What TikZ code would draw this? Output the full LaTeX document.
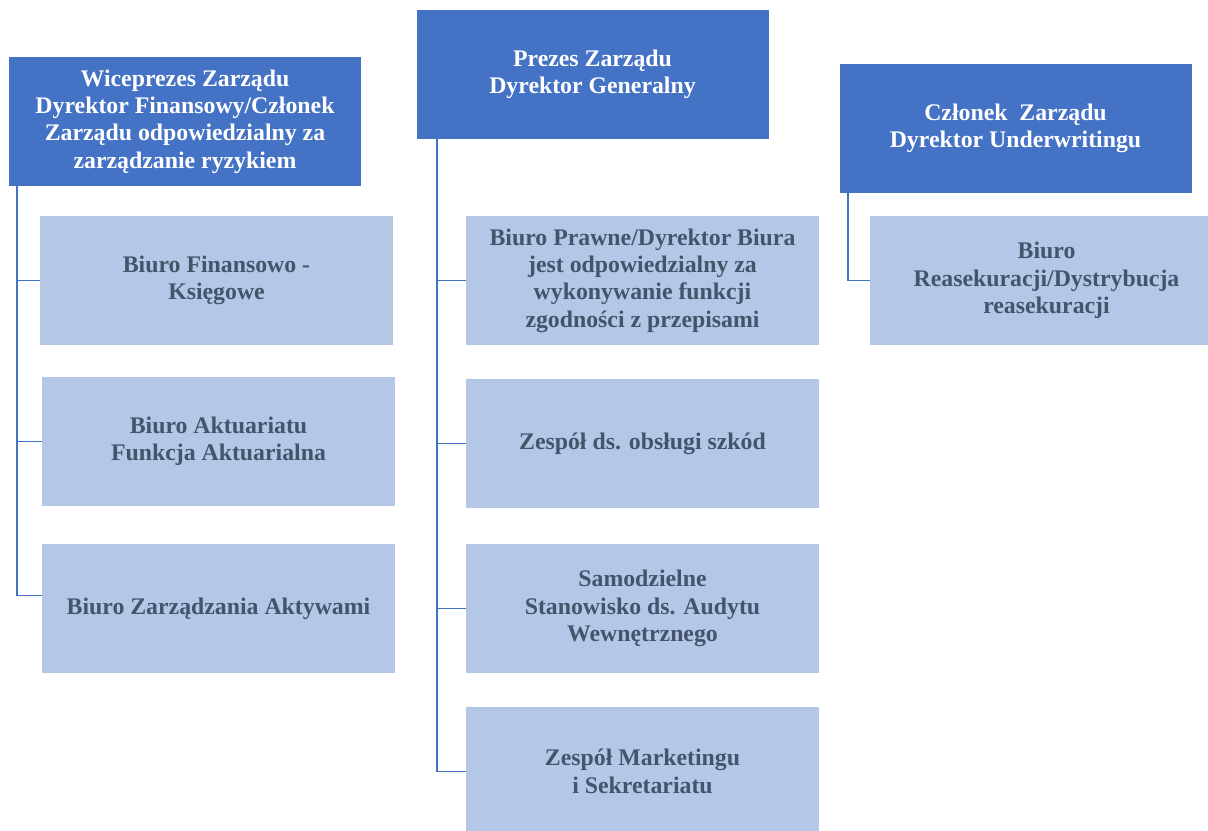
\documentclass[tikz,border=0pt]{standalone}
\usepackage{fontspec}
\setmainfont{Liberation Serif}
\usetikzlibrary{shapes}
\definecolor{org_dark}{RGB}{68, 114, 196}
\definecolor{org_light}{RGB}{180, 199, 231}
\definecolor{org_text}{RGB}{68, 84, 106}
\tikzstyle{hd}=[rectangle,fill=org_dark,text=white,align=center,
  font=\bfseries\fontsize{11.9}{13.7}\selectfont,inner sep=0pt,
  minimum width=176pt,minimum height=64.5pt]
\tikzstyle{bx}=[rectangle,fill=org_light,text=org_text,align=center,
  font=\bfseries\fontsize{11.9}{13.7}\selectfont,inner sep=0pt,
  minimum width=176.5pt,minimum height=64.5pt]
\tikzstyle{ln}=[draw=org_dark,line width=0.75pt]

\begin{document}
\begin{tikzpicture}[x=0.5pt,y=-0.5pt]
    \clip (0, 0) rectangle (1208, 830);
    \node [style=hd] (0) at (185, 121.5) {Wiceprezes Zarządu\\Dyrektor Finansowy/Członek\\Zarządu odpowiedzialny za\\zarządzanie ryzykiem};
    \node [style=bx] (1) at (216.5, 280.5) {Biuro Finansowo -\\Księgowe};
    \node [style=bx] (2) at (218.5, 441.5) {Biuro Aktuariatu\\Funkcja Aktuarialna};
    \node [style=bx] (3) at (218.5, 608.5) {Biuro Zarządzania Aktywami};
    \node [style=hd] (4) at (592.5, 74.5) {Prezes Zarządu\\Dyrektor Generalny};
    \node [style=bx] (5) at (642.5, 280.5) {Biuro Prawne/Dyrektor Biura\\jest odpowiedzialny za\\wykonywanie funkcji\\zgodności z przepisami};
    \node [style=bx] (6) at (642.5, 443.5) {Zespół ds. obsługi szkód};
    \node [style=bx] (7) at (642.5, 608.5) {Samodzielne\\Stanowisko ds. Audytu\\Wewnętrznego};
    \node [style=bx] (8) at (642.5, 771.5) {Zespół Marketingu\\i Sekretariatu};
    \node [style=hd] (9) at (1015.5, 128.5) {Członek\ \ Zarządu\\Dyrektor Underwritingu};
    \node [style=bx] (10) at (1046.5, 280.5) {Biuro\\Reasekuracji/Dystrybucja\\reasekuracji};
    \coordinate (t0) at (17, 186);
    \coordinate (t4) at (437, 139);
    \coordinate (t9) at (848, 193);
    \draw [style=ln] (t0) |- (1.west);
    \draw [style=ln] (t0) |- (2.west);
    \draw [style=ln] (t0) |- ([yshift=6.4pt]3.west);
    \draw [style=ln] (t4) |- (5.west);
    \draw [style=ln] (t4) |- (6.west);
    \draw [style=ln] (t4) |- (7.west);
    \draw [style=ln] (t4) |- (8.west);
    \draw [style=ln] (t9) |- (10.west);
  \end{tikzpicture}
\end{document}
